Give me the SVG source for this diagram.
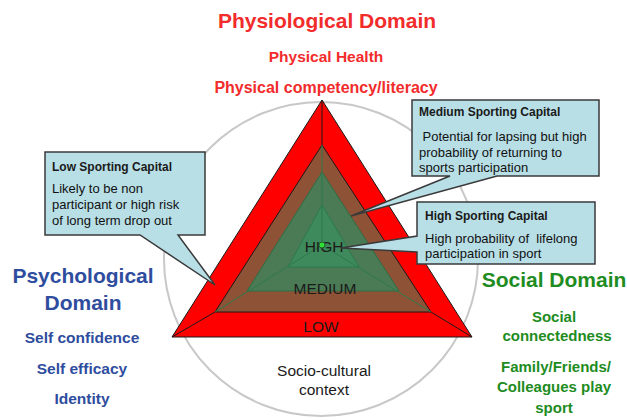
<svg xmlns="http://www.w3.org/2000/svg" width="627" height="420" viewBox="0 0 627 420">
<style>
text{font-family:"Liberation Sans",Arial,sans-serif}
.red{fill:#f22b2b;font-weight:bold;text-anchor:middle}
.blue{fill:#2f4d9e;font-weight:bold;text-anchor:middle}
.green{fill:#1e8c1e;font-weight:bold;text-anchor:middle}
.lvl{fill:#1a1a1a;font-size:15.5px;text-anchor:middle}
.call{fill:#b8dee6;stroke:#3a3a3a;stroke-width:1.5}
.ct{fill:#1a1a1a;font-size:12px;font-weight:bold}
.cb{fill:#111111;font-size:13px;white-space:pre}
</style>
<rect width="627" height="420" fill="#ffffff"/>
<circle id="context-circle" cx="321" cy="259" r="157" fill="none" stroke="#c8c8c8" stroke-width="2"/>
<g id="triangles">
<polygon id="low" points="322,100 472,337 172,337" fill="#ff0000" stroke="#1a1a1a" stroke-width="1"/>
<polygon id="medium" points="322,145 431,312 215,312" fill="#8e5237" stroke="#1a1a1a" stroke-width="1"/>
<polygon id="mid-green" points="322,172 399,291 247,291" fill="#4b7b55" stroke="#2c6e46" stroke-width="1"/>
<polygon id="high" points="322,205 359,267 288,267" fill="#3f8a5c" stroke="#2c7a4c" stroke-width="1"/>
</g>
<g id="connectors">
<line x1="322" y1="100" x2="322" y2="145" stroke="#1a1a1a" stroke-width="1"/>
<line x1="172" y1="337" x2="215" y2="312" stroke="#1a1a1a" stroke-width="1"/>
<line x1="472" y1="337" x2="431" y2="312" stroke="#1a1a1a" stroke-width="1"/>
<line x1="322" y1="245" x2="322" y2="145" stroke="#2d7a4c" stroke-width="1"/>
<line x1="322" y1="245" x2="215" y2="312" stroke="#2d7a4c" stroke-width="1"/>
<line x1="322" y1="245" x2="431" y2="312" stroke="#2d7a4c" stroke-width="1"/>
</g>
<g id="level-labels">
<text class="lvl" x="324" y="252">HIGH</text>
<text class="lvl" x="325" y="294">MEDIUM</text>
<text class="lvl" x="321" y="332">LOW</text>
</g>
<g id="physiological">
<text class="red" x="327" y="28" font-size="21">Physiological Domain</text>
<text class="red" x="326" y="62" font-size="15.5">Physical Health</text>
<text class="red" x="326" y="93" font-size="16">Physical competency/literacy</text>
</g>
<g id="psychological">
<text class="blue" x="83" y="283" font-size="21">Psychological</text>
<text class="blue" x="83" y="310" font-size="21">Domain</text>
<text class="blue" x="82" y="343" font-size="15.5">Self confidence</text>
<text class="blue" x="82" y="374" font-size="15.5">Self efficacy</text>
<text class="blue" x="82" y="404" font-size="15.5">Identity</text>
</g>
<g id="social">
<text class="green" x="554" y="287" font-size="21">Social Domain</text>
<text class="green" x="554" y="322" font-size="15">Social</text>
<text class="green" x="557" y="341" font-size="15">connectedness</text>
<text class="green" x="556" y="372" font-size="15">Family/Friends/</text>
<text class="green" x="554" y="392" font-size="15">Colleagues play</text>
<text class="green" x="554" y="413" font-size="15">sport</text>
</g>
<g id="socio-cultural">
<text x="324" y="376" font-size="15.5" fill="#1a1a1a" text-anchor="middle">Socio-cultural</text>
<text x="324" y="395" font-size="15.5" fill="#1a1a1a" text-anchor="middle">context</text>
</g>
<g id="callout-low">
<path class="call" d="M45,152 H205 V235 H178 L215,285 L140,235 H45 Z"/>
<text class="ct" x="52" y="171">Low Sporting Capital</text>
<text class="cb" x="52" y="193">Likely to be non</text>
<text class="cb" x="52" y="209">participant or high risk</text>
<text class="cb" x="52" y="225">of long term drop out</text>
</g>
<g id="callout-medium">
<path class="call" d="M412,100 H599 V176 H497 L351,216 L450,176 H412 Z"/>
<text class="ct" x="419" y="116">Medium Sporting Capital</text>
<text class="cb" x="419" y="141"> Potential for lapsing but high</text>
<text class="cb" x="419" y="157">probability of returning to</text>
<text class="cb" x="419" y="172">sports participation</text>
</g>
<g id="callout-high">
<path class="call" d="M417,202 H595 V264 H417 V252 L341,248 L417,236 Z"/>
<text class="ct" x="425" y="220">High Sporting Capital</text>
<text class="cb" x="425" y="243">High probability of  lifelong</text>
<text class="cb" x="425" y="258">participation in sport</text>
</g>
<circle id="centre-dot" cx="322" cy="245" r="3" fill="#33dd33" stroke="#1f5f2a" stroke-width="1"/>
</svg>
